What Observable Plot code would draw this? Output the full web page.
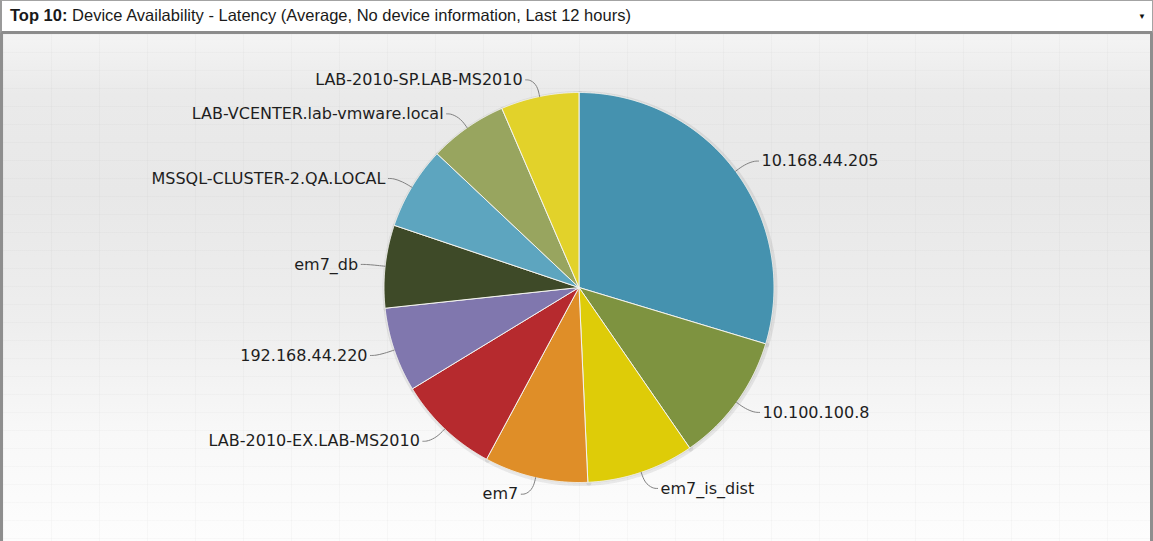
<!DOCTYPE html>
<html><head><meta charset="utf-8">
<script src="https://cdn.jsdelivr.net/npm/d3@7"></script>
<script src="https://cdn.jsdelivr.net/npm/@observablehq/plot@0.6"></script>
<style>
html,body{margin:0;padding:0;background:#fff;overflow:hidden;}
#header{position:absolute;left:0;top:0;width:1153px;height:34px;box-sizing:border-box;
  border:1px solid #a3a3a3;border-left:2px solid #9a9a9a;border-bottom:3px solid #8c8c8c;background:#fff;
  font:16.5px "Liberation Sans",Arial,sans-serif;color:#1a1a1a;}
#title{position:absolute;left:8px;top:5px;white-space:nowrap;}
#title b{font-weight:bold;}
#arrow{position:absolute;right:6px;top:11px;font-size:8px;color:#111;}
#chart{position:absolute;left:0;top:34px;width:1153px;height:507px;box-sizing:border-box;
  border-left:3px solid #8e8e8e;border-right:3px solid #8e8e8e;
  background:
    repeating-linear-gradient(90deg, rgba(0,0,0,0.022) 0 1px, transparent 1px 48px),
    repeating-linear-gradient(180deg, rgba(0,0,0,0.018) 0 1px, transparent 1px 18px),
    linear-gradient(180deg, #f4f4f4 0px, #eaeaea 60px, #e8e8e8 160px, #eeeeee 290px, #f8f8f8 400px, #fdfdfd 507px);}
#chart svg{position:absolute;left:0;top:0;}
</style>
</head><body>
<div id="header"><div id="title"><b>Top 10:</b> Device Availability - Latency (Average, No device information, Last 12 hours)</div><div id="arrow">&#9660;</div></div>
<div id="chart"></div>
<script>
// ---- data ----
const devices = ["10.168.44.205","10.100.100.8","em7_is_dist","em7","LAB-2010-EX.LAB-MS2010","192.168.44.220","em7_db","MSSQL-CLUSTER-2.QA.LOCAL","LAB-VCENTER.lab-vmware.local","LAB-2010-SP.LAB-MS2010"];
const latency = [106.8, 38.6, 32.0, 30.9, 30.4, 25.2, 24.7, 24.7, 23.4, 23.3];
const colors = ["#4592AF","#7E9340","#DECC08","#DF8E28","#B62A2E","#8077AE","#3E4A28","#5DA5BF","#98A55F","#E2D22A"];

// ---- layout ----
const W = 1147, H = 507;
const cx = 575.5, cy = 253, R = 195;
const labelRx = 222, labelRy = 212, labelPush = 12;

const rows = devices.map((name, i) => ({name, value: latency[i], color: colors[i]}));
const arcs = d3.pie().sort(null).value(d => d.value)(rows);

const px = (r, a) => cx + r * Math.sin(a);
const py = (r, a) => cy - r * Math.cos(a);

// slice polygons
const slicePts = [];
for (const arc of arcs) {
  const {name, color} = arc.data;
  slicePts.push({name, color, x: cx, y: cy});
  const n = Math.max(2, Math.ceil((arc.endAngle - arc.startAngle) / 0.004));
  for (let k = 0; k <= n; k++) {
    const a = arc.startAngle + (arc.endAngle - arc.startAngle) * k / n;
    slicePts.push({name, color, x: px(R, a), y: py(R, a)});
  }
  slicePts.push({name, color, x: cx, y: cy});
}

// labels + connectors
const labels = [];
const connPts = [];
for (const arc of arcs) {
  const a = (arc.startAngle + arc.endAngle) / 2;
  const s = Math.sin(a), c = Math.cos(a);
  const side = s >= 0 ? 1 : -1;
  const lx = cx + labelRx * s + side * labelPush * c * c;
  const ly = cy - labelRy * c;
  labels.push({name: arc.data.name, x: lx, y: ly, anchor: side > 0 ? "start" : "end"});
  const name = arc.data.name;
  connPts.push({name, x: px(R, a), y: py(R, a)});
  connPts.push({name, x: px(R + 11, a), y: py(R + 11, a)});
  connPts.push({name, x: lx - side * 8, y: ly});
  connPts.push({name, x: lx - side * 3, y: ly});
}

const chart = Plot.plot({
  width: W, height: H, margin: 0,
  x: {domain: [0, W], range: [0, W], axis: null},
  y: {domain: [0, H], range: [0, H], axis: null},
  color: {type: "identity"},
  style: {background: "transparent", overflow: "visible"},
  marks: [
    Plot.line(slicePts, {x: "x", y: "y", z: "name", fill: "#000", fillOpacity: 0.06, stroke: "#000", strokeOpacity: 0.07, strokeWidth: 5, dx: 1, dy: 1, curve: "linear"}),
    Plot.line(slicePts, {x: "x", y: "y", z: "name", fill: "color", stroke: "#f4f4f0", strokeWidth: 1, strokeLinejoin: "round", curve: "linear"}),
    Plot.line(connPts, {x: "x", y: "y", z: "name", stroke: "#808080", strokeWidth: 1, curve: "basis"}),
    Plot.text(labels.filter(d => d.anchor === "start"), {x: "x", y: "y", text: "name", textAnchor: "start", fill: "#1e1e1e", fontSize: 16, fontFamily: "DejaVu Sans"}),
    Plot.text(labels.filter(d => d.anchor === "end"), {x: "x", y: "y", text: "name", textAnchor: "end", fill: "#1e1e1e", fontSize: 16, fontFamily: "DejaVu Sans"})
  ]
});
document.getElementById("chart").appendChild(chart);
</script>
</body></html>
